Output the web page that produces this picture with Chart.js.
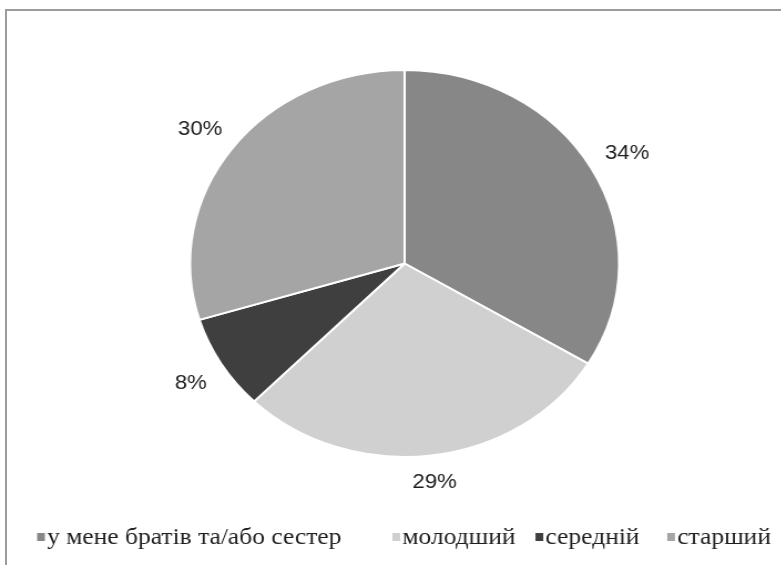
<!DOCTYPE html>
<html>
<head>
<meta charset="utf-8">
<script src="https://cdn.jsdelivr.net/npm/chart.js@4.4.1/dist/chart.umd.min.js"></script>
<style>
  html, body { margin: 0; padding: 0; background: #fff; overflow: hidden; }
  #moldura { position: absolute; left: 5px; top: 9px; width: 830px; height: 640px; border: 2px solid #9c9c9c; box-sizing: border-box; }
  /* o grafico original vem esticado na horizontal */
  #area { position: absolute; left: 0; top: 0; width: 705px; height: 565px; transform: scaleX(1.1085); transform-origin: 0 0; }
</style>
</head>
<body>
<div id="moldura"></div>
<div id="area"><canvas id="graficoIrmaos"></canvas></div>
<script>
const categorias = ['у мене братів та/або сестер', 'молодший', 'середній', 'старший'];
const percentuais = [34, 29, 8, 30];
const cores = ['#878787', '#d0d0d0', '#3f3f3f', '#a5a5a5'];

// rotulos de % fora de cada fatia
const rotulosPercentuais = {
  id: 'rotulosPercentuais',
  afterDatasetsDraw(chart) {
    const ctx = chart.ctx;
    const meta = chart.getDatasetMeta(0);
    ctx.save();
    ctx.font = '20px "Liberation Sans", Arial, sans-serif';
    ctx.fillStyle = '#1e1e1e';
    ctx.textAlign = 'center';
    ctx.textBaseline = 'middle';
    meta.data.forEach((arco, i) => {
      const p = arco.getProps(['x', 'y', 'startAngle', 'endAngle', 'outerRadius'], true);
      const meio = (p.startAngle + p.endAngle) / 2;
      const texto = percentuais[i] + '%';
      const largura = ctx.measureText(texto).width;
      const alcance = Math.abs(Math.cos(meio)) * largura / 2 + Math.abs(Math.sin(meio)) * 5;
      const r = p.outerRadius + 17 + alcance;
      ctx.fillText(texto, p.x + Math.cos(meio) * r, p.y + Math.sin(meio) * r + 3);
    });
    ctx.restore();
  }
};

// legenda na base, com os espacos irregulares do excel
const legendaBase = {
  id: 'legendaBase',
  afterDraw(chart) {
    const ctx = chart.ctx;
    const espacos = [46, 18, 25];
    const y = 537;
    let x = 33.5;
    ctx.save();
    ctx.font = '23px "Liberation Serif", "Times New Roman", serif';
    ctx.textBaseline = 'middle';
    categorias.forEach((nome, i) => {
      ctx.fillStyle = cores[i];
      ctx.fillRect(x, y - 4, 7, 8);
      ctx.fillStyle = '#1e1e1e';
      ctx.fillText(nome, x + 9, y + 1);
      x += 9 + ctx.measureText(nome).width + (espacos[i] || 0);
    });
    ctx.restore();
  }
};

new Chart(document.getElementById('graficoIrmaos'), {
  type: 'pie',
  data: {
    labels: categorias,
    datasets: [{
      data: percentuais,
      backgroundColor: cores,
      borderColor: '#ffffff',
      borderWidth: 2
    }]
  },
  options: {
    responsive: true,
    maintainAspectRatio: false,
    animation: false,
    layout: {
      padding: { top: 69, bottom: 107, left: 25, right: 0 }
    },
    plugins: {
      legend: { display: false },
      tooltip: { enabled: false }
    }
  },
  plugins: [rotulosPercentuais, legendaBase]
});
</script>
</body>
</html>
